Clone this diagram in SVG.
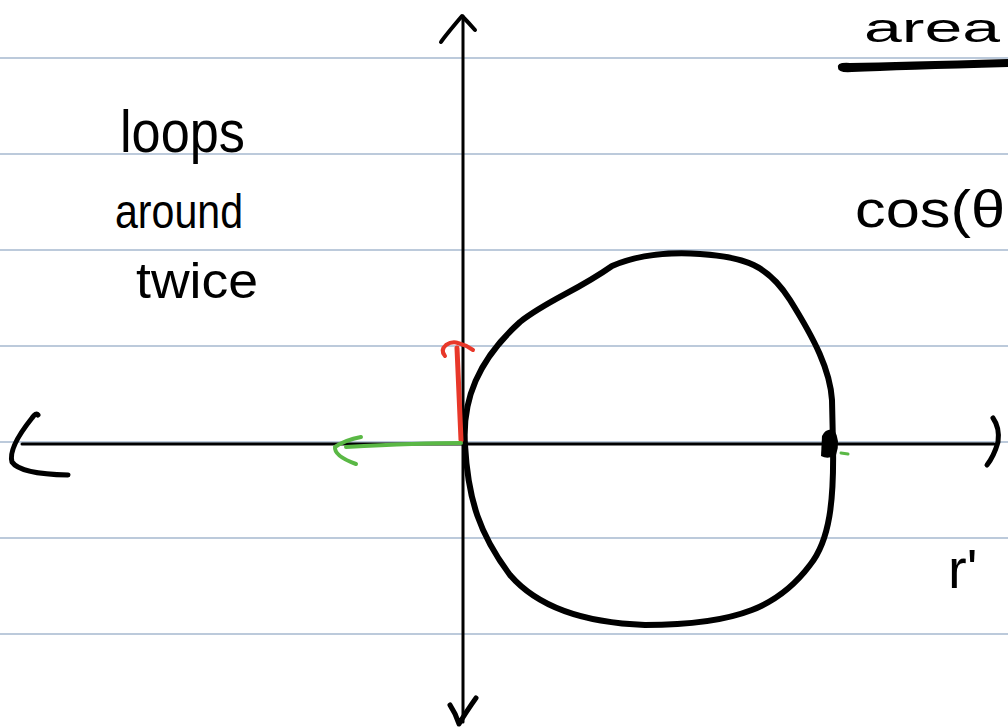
<svg xmlns="http://www.w3.org/2000/svg" width="1008" height="728" viewBox="0 0 1008 728">
<style>
.rule{stroke:#bccadb;stroke-width:2}
.ink{fill:none;stroke:#000;stroke-linecap:round;stroke-linejoin:round}
.hw{font-family:"Liberation Sans","DejaVu Sans",sans-serif;fill:#000}
</style>
<rect width="1008" height="728" fill="#fff"/>
<g id="rules">
<line class="rule" x1="0" y1="58" x2="1008" y2="58"/>
<line class="rule" x1="0" y1="154" x2="1008" y2="154"/>
<line class="rule" x1="0" y1="250" x2="1008" y2="250"/>
<line class="rule" x1="0" y1="346" x2="1008" y2="346"/>
<line class="rule" x1="0" y1="442" x2="1008" y2="442"/>
<line class="rule" x1="0" y1="538" x2="1008" y2="538"/>
<line class="rule" x1="0" y1="634" x2="1008" y2="634"/>
</g>
<g id="connectors">
<path class="ink" stroke-width="3" d="M463 16 L463 722"/>
<path class="ink" stroke-width="4" d="M441 42 Q445 36 462 16 Q468 22 475 30"/>
<path class="ink" stroke-width="5" d="M450 705 Q456 714 459 724 Q466 712 476 698"/>
<path class="ink" stroke-width="3" d="M22 444 L994 444"/>
<path class="ink" stroke-width="5" d="M38 415 Q36 412 32 418 Q8 448 12 462 Q20 474 68 475"/>
<path class="ink" stroke-width="5" d="M993 418 Q1000 428 998 442 Q994 456 987 465"/>
<path class="ink" stroke-width="6" d="M465 445 C462 400 478 360 520 322 C548 300 575 292 612 266 C640 254 670 252 700 254 C745 257 768 265 790 300 C815 340 830 370 832 400 L833 445 C834 500 830 540 810 565 C780 605 740 625 645 625 C590 623 540 610 510 575 C480 535 468 500 465 445 Z"/>
<path fill="#000" d="M822 436 Q826 428 834 430 Q841 440 836 455 Q828 460 821 456 Z"/>
<path fill="none" stroke="#5ab845" stroke-width="3" stroke-linecap="round" d="M841 453 L848 454"/>
<path fill="none" stroke="#e8382a" stroke-width="5" stroke-linecap="round" d="M461 440 L457 348"/>
<path fill="none" stroke="#e8382a" stroke-width="4" stroke-linecap="round" stroke-linejoin="round" d="M445 356 Q440 350 446 345 Q452 341 458 343 Q466 345 473 350"/>
<path fill="none" stroke="#5ab845" stroke-width="4" stroke-linecap="round" d="M461 443 Q420 443 346 447"/>
<path fill="none" stroke="#5ab845" stroke-width="4" stroke-linecap="round" stroke-linejoin="round" d="M361 437 Q345 440 335 447 Q334 456 356 464"/>
<path fill="#000" d="M838 68 Q836 62 850 63 Q900 62 1008 59 L1008 67 Q900 70 852 72 Q838 73 838 68 Z"/>
</g>
<g id="labels">
<text class="hw" x="120" y="152" font-size="60" textLength="125" lengthAdjust="spacingAndGlyphs">loops</text>
<text class="hw" x="115" y="228" font-size="48" textLength="128" lengthAdjust="spacingAndGlyphs">around</text>
<text class="hw" x="136" y="298" font-size="50" textLength="122" lengthAdjust="spacingAndGlyphs">twice</text>
<text class="hw" x="855" y="227" font-size="52" textLength="150" lengthAdjust="spacingAndGlyphs">cos(θ</text>
<text class="hw" x="948" y="588" font-size="56">r'</text>
<text class="hw" x="864" y="42" font-size="40" textLength="136" lengthAdjust="spacingAndGlyphs">area</text>
</g>
</svg>
